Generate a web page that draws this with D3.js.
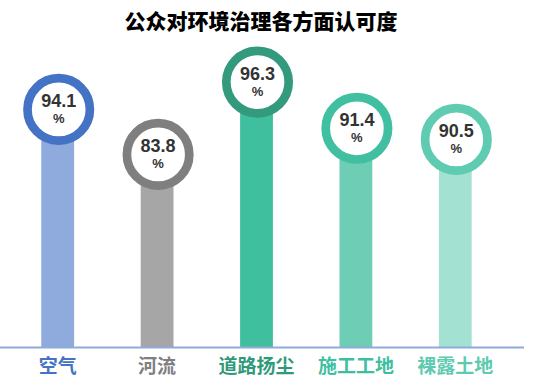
<!DOCTYPE html>
<html>
<head>
<meta charset="utf-8">
<script src="https://cdn.jsdelivr.net/npm/d3@7"></script>
<style>
  body { margin: 0; background: #fff; }
  svg { display: block; font-family: "Liberation Sans", Arial, sans-serif; }
  .cjk { font-family: "Noto Sans CJK SC", sans-serif; }
</style>
</head>
<body>
<div id="chart"></div>
<script>
// 数据
const categories = ["空气", "河流", "道路扬尘", "施工工地", "裸露土地"];
const values = [94.1, 83.8, 96.3, 91.4, 90.5];          // 圆圈里的认可度 (%)
const barLength = [79.2, 64.2, 88.3, 72.9, 69.2];        // 柱子画出的长度 (0-100 刻度, 从图上读出)
const ringColors = ["#4472c4", "#7f7f7f", "#339a7e", "#40c0a0", "#5fcbb0"];
const barColors = ["#8faadc", "#a6a6a6", "#40bf9f", "#6dceb5", "#a3e1d2"];
const labelColors = ["#4472c4", "#7f7f7f", "#2f9a7a", "#3fbf9f", "#5ecbb0"];

const width = 536, height = 388;
const baseY = 347;

const svg = d3.select("#chart").append("svg")
    .attr("width", width)
    .attr("height", height);

// 标题
svg.append("text")
    .attr("class", "cjk")
    .attr("x", 261)
    .attr("y", 29)
    .attr("text-anchor", "middle")
    .style("font-size", "21px")
    .style("font-weight", "900")
    .attr("fill", "#000")
    .text("公众对环境治理各方面认可度");

const x = d3.scaleBand()
    .domain(categories)
    .range([8, 505])
    .paddingInner(0.67)
    .paddingOuter(0.335);

const y = d3.scaleLinear()
    .domain([0, 100])
    .range([baseY, 47]);

const data = categories.map((c, i) => ({
    cat: c, value: values[i], len: barLength[i],
    ring: ringColors[i], bar: barColors[i], label: labelColors[i]
}));

// 柱子
svg.selectAll(".bar")
    .data(data)
    .enter()
    .append("rect")
    .attr("class", "bar")
    .attr("x", d => x(d.cat))
    .attr("width", x.bandwidth())
    .attr("y", d => y(d.len))
    .attr("height", d => y(0) - y(d.len))
    .attr("fill", d => d.bar);

// 横轴线
svg.append("line")
    .attr("x1", 0).attr("x2", 524)
    .attr("y1", baseY + 0.5).attr("y2", baseY + 0.5)
    .attr("stroke", "#8faadc")
    .attr("stroke-width", 2);

// 类别标签
const axis = svg.append("g")
    .attr("transform", `translate(0,${baseY})`)
    .call(d3.axisBottom(x).tickSize(0).tickPadding(0));
axis.select(".domain").remove();
axis.selectAll("text")
    .attr("class", "cjk")
    .attr("dy", null)
    .attr("y", 26)
    .style("font-size", "19px")
    .style("font-weight", "bold")
    .attr("fill", (d, i) => labelColors[i]);

// 圆圈
const cx = d => x(d.cat) + x.bandwidth() / 2 + 1;
const g = svg.selectAll(".badge")
    .data(data)
    .enter()
    .append("g")
    .attr("class", "badge")
    .attr("transform", d => `translate(${cx(d)},${y(d.len)})`);

g.append("circle")
    .attr("r", 31.2)
    .attr("fill", "#fff")
    .attr("stroke", d => d.ring)
    .attr("stroke-width", 8.7);

g.append("text")
    .attr("y", -2)
    .attr("text-anchor", "middle")
    .style("font-size", "18px")
    .style("font-weight", "bold")
    .attr("fill", "#333")
    .text(d => d.value.toFixed(1));

g.append("text")
    .attr("y", 14)
    .attr("text-anchor", "middle")
    .style("font-size", "13px")
    .style("font-weight", "bold")
    .attr("fill", "#333")
    .text("%");
</script>
</body>
</html>
